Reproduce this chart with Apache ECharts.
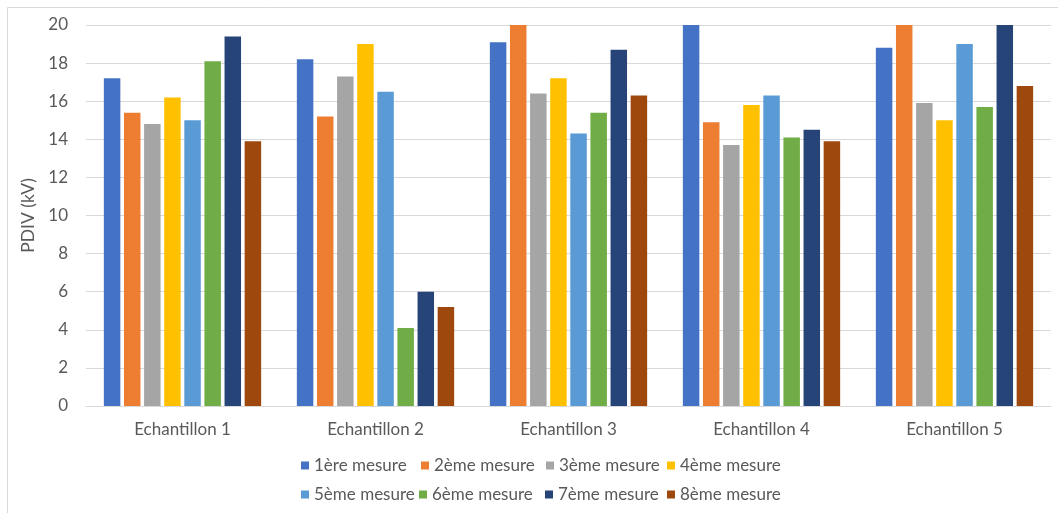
<!DOCTYPE html>
<html>
<head>
<meta charset="utf-8">
<script src="https://cdn.jsdelivr.net/npm/echarts@6/dist/echarts.min.js"></script>
<style>
html,body{margin:0;padding:0;background:#fff;}
#chart{width:1058px;height:513px;}
</style>
</head>
<body>
<div id="chart"></div>
<script>
const categories = ['Echantillon 1','Echantillon 2','Echantillon 3','Echantillon 4','Echantillon 5'];
const seriesNames = ['1ère mesure','2ème mesure','3ème mesure','4ème mesure','5ème mesure','6ème mesure','7ème mesure','8ème mesure'];
const m1 = [17.2, 18.2, 19.1, 20.0, 18.8];
const m2 = [15.4, 15.2, 20.0, 14.9, 20.0];
const m3 = [14.8, 17.3, 16.4, 13.7, 15.9];
const m4 = [16.2, 19.0, 17.2, 15.8, 15.0];
const m5 = [15.0, 16.5, 14.3, 16.3, 19.0];
const m6 = [18.1, 4.1, 15.4, 14.1, 15.7];
const m7 = [19.4, 6.0, 18.7, 14.5, 20.0];
const m8 = [13.9, 5.2, 16.3, 13.9, 16.8];
const yTicks = [0,2,4,6,8,10,12,14,16,18,20];

const values = [m1,m2,m3,m4,m5,m6,m7,m8];
const colors = ['#4472C4','#ED7D31','#A5A5A5','#FFC000','#5B9BD5','#70AD47','#264478','#9E480E'];
const font = 'Lato, "Open Sans", sans-serif';
const legendLeft = [301, 421, 546, 667, 301, 419, 545, 667];
const legendTop = [457, 457, 457, 457, 486, 486, 486, 486];

const chart = echarts.init(document.getElementById('chart'));
chart.setOption({
  animation: false,
  backgroundColor: '#fff',
  color: colors,
  graphic: [{
    type: 'rect', shape: {x: 7.5, y: 7.5, width: 1100, height: 600},
    style: {fill: 'none', stroke: '#d9d9d9', lineWidth: 1}, silent: true
  }],
  grid: {left: 86, right: 7, top: 25, bottom: 107},
  legend: seriesNames.map((n, i) => ({
    data: [n], left: legendLeft[i], top: legendTop[i], itemWidth: 8, itemHeight: 8,
    padding: 0, icon: 'rect', textStyle: {fontFamily: font, fontSize: 17, color: '#595959'}
  })),
  xAxis: {
    type: 'category', data: categories,
    axisLine: {lineStyle: {color: '#d9d9d9'}}, axisTick: {show: false},
    axisLabel: {fontFamily: font, fontSize: 17, color: '#595959', margin: 15}
  },
  yAxis: {
    type: 'value', min: 0, max: 20, interval: 2,
    name: 'PDIV (kV)', nameLocation: 'middle', nameGap: 40, nameRotate: 90,
    nameTextStyle: {fontFamily: font, fontSize: 17.5, color: '#595959'},
    axisLabel: {fontFamily: font, fontSize: 17, color: '#595959', margin: 18,
      formatter: v => yTicks.includes(v) ? String(v) : ''},
    splitLine: {lineStyle: {color: '#d9d9d9'}},
    axisLine: {show: false}, axisTick: {show: false}
  },
  series: values.map((d, i) => ({
    name: seriesNames[i], type: 'bar', data: d,
    barCategoryGap: '18.5%', barGap: '22%'
  }))
});
</script>
</body>
</html>
